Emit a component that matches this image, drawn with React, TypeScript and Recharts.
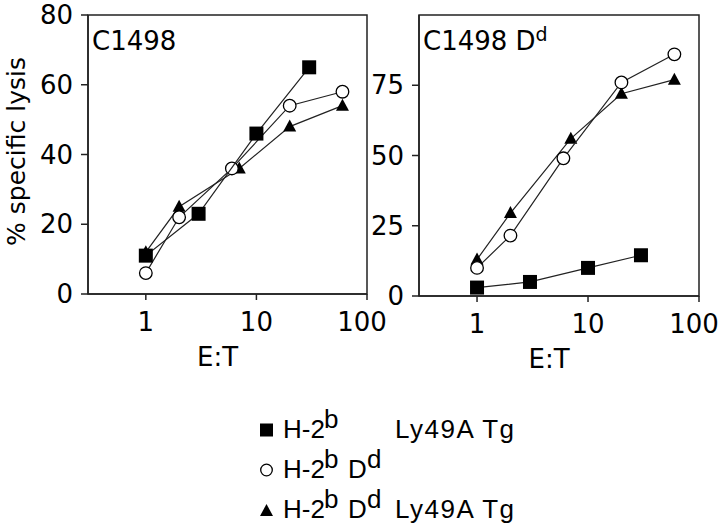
import {
  ComposedChart,
  Scatter,
  XAxis,
  YAxis,
  ReferenceArea,
} from "recharts";

// E:T ratios for each group
const etSquare = [1, 3, 10, 30];
const etCircle = [1, 2, 6, 20, 60];
const etTriangle = [1, 2, 7, 20, 60];

// % specific lysis, C1498 targets
const c1498Square = [11, 23, 46, 65];
const c1498Circle = [6, 22, 36, 54, 58];
const c1498Triangle = [12, 25, 36, 48, 54];

// % specific lysis, C1498 Dd targets
const c1498DdSquare = [3, 5, 10, 14.5];
const c1498DdCircle = [10, 21.5, 49, 76, 86];
const c1498DdTriangle = [13, 29.5, 56, 72, 77];

const xTicks = [1, 10, 100];
const leftYTicks = [0, 20, 40, 60, 80];
const rightYTicks = [0, 25, 50, 75];

const legendRows = [
  { shape: "square", base: "H-2", sup: "b", d: false, tg: true },
  { shape: "circle", base: "H-2", sup: "b", d: true, tg: false },
  { shape: "triangle", base: "H-2", sup: "b", d: true, tg: true },
];

const AXIS_FONT = "'DejaVu Sans', sans-serif";
const LEGEND_FONT = "'Liberation Sans', Arial, sans-serif";
const INK = "#222";

const toPoints = (xs: number[], ys: number[]) => xs.map((x, i) => ({ x, y: ys[i] }));

const SquareDot = (p: any) => (
  <rect x={p.cx - 7} y={p.cy - 7} width={14} height={14} fill="#000" />
);
const CircleDot = (p: any) => (
  <circle cx={p.cx} cy={p.cy} r={6.3} fill="#fff" stroke="#000" strokeWidth={1.3} />
);
const TriangleDot = (p: any) => (
  <polygon
    points={`${p.cx},${p.cy - 7} ${p.cx - 6.5},${p.cy + 5} ${p.cx + 6.5},${p.cy + 5}`}
    fill="#000"
  />
);

const tickStyle = { fontSize: 26, fill: "#000", fontFamily: AXIS_FONT };

// x tick: the "100" label sits a little left of its tick in the original
const XTick = (props: any) => {
  const { x, y, payload } = props;
  const shift = payload.value === 100 ? -5 : 0;
  return (
    <text
      x={x + shift}
      y={y + 19}
      textAnchor="middle"
      fontSize={26}
      fontFamily={AXIS_FONT}
      fill="#000"
    >
      {payload.value}
    </text>
  );
};

function Panel({
  square,
  circle,
  triangle,
  yMax,
  yTicks,
  width,
  yAxisWidth,
  margin,
  title,
  showYLabel,
}: any) {
  const lineStyle = { stroke: INK, strokeWidth: 1.2 };
  return (
    <ComposedChart width={width} height={400} margin={margin}>
      <XAxis
        dataKey="x"
        type="number"
        scale="log"
        domain={[0.3, 100]}
        ticks={xTicks}
        allowDataOverflow
        height={72}
        tickSize={6}
        tickMargin={12}
        tick={XTick}
        axisLine={{ stroke: INK, strokeWidth: 1.5 }}
        tickLine={{ stroke: INK, strokeWidth: 1.5 }}
        label={{
          content: (props: any) => {
            const vb = props.viewBox;
            return (
              <text
                x={vb.x + vb.width / 2 - 10}
                y={vb.y + vb.height}
                textAnchor="middle"
                fontSize={26}
                fontFamily={AXIS_FONT}
                fill="#000"
              >
                E:T
              </text>
            );
          },
        }}
      />
      <YAxis
        dataKey="y"
        type="number"
        domain={[0, yMax]}
        ticks={yTicks}
        allowDataOverflow
        width={yAxisWidth}
        tickSize={7}
        tickMargin={8}
        tick={tickStyle}
        axisLine={{ stroke: INK, strokeWidth: 1.5 }}
        tickLine={{ stroke: INK, strokeWidth: 1.5 }}
        label={
          showYLabel
            ? {
                content: (props: any) => {
                  const vb = props.viewBox;
                  const cx = 25;
                  const cy = vb.y + vb.height / 2 - 3;
                  return (
                    <text
                      x={cx}
                      y={cy}
                      transform={`rotate(-90, ${cx}, ${cy})`}
                      textAnchor="middle"
                      fontSize={25}
                      fontFamily={AXIS_FONT}
                      fill="#000"
                    >
                      % specific lysis
                    </text>
                  );
                },
              }
            : undefined
        }
      />
      <ReferenceArea
        x1={0.3}
        x2={100}
        y1={0}
        y2={yMax}
        fill="none"
        stroke={INK}
        strokeWidth={1.5}
        fillOpacity={0}
        ifOverflow="visible"
        label={{
          content: (props: any) => {
            const vb = props.viewBox;
            return (
              <text x={vb.x + 4} y={vb.y + 35} fontSize={26} fontFamily={AXIS_FONT} fill="#000">
                {title}
                {title === "C1498 D" ? (
                  <tspan dy={-9} fontSize={19}>
                    d
                  </tspan>
                ) : null}
              </text>
            );
          },
        }}
      />
      <Scatter
        data={toPoints(etTriangle, triangle)}
        line={lineStyle}
        lineType="joint"
        shape={TriangleDot}
        isAnimationActive={false}
      />
      <Scatter
        data={toPoints(etCircle, circle)}
        line={lineStyle}
        lineType="joint"
        shape={CircleDot}
        isAnimationActive={false}
      />
      <Scatter
        data={toPoints(etSquare, square)}
        line={lineStyle}
        lineType="joint"
        shape={SquareDot}
        isAnimationActive={false}
      />
    </ComposedChart>
  );
}

function LegendMarker({ shape, cx, cy }: { shape: string; cx: number; cy: number }) {
  if (shape === "square") return <rect x={cx - 6.5} y={cy - 6.5} width={13} height={13} fill="#000" />;
  if (shape === "circle")
    return <circle cx={cx} cy={cy} r={5.8} fill="#fff" stroke="#000" strokeWidth={1.3} />;
  return <polygon points={`${cx},${cy - 6} ${cx - 6.5},${cy + 6} ${cx + 6.5},${cy + 6}`} fill="#000" />;
}

function LegendBlock() {
  return (
    <svg width={720} height={126} style={{ position: "absolute", left: 0, top: 400 }}>
      {legendRows.map((row, i) => {
        const base = 38 + i * 40;
        return (
          <g key={row.shape} fontFamily={LEGEND_FONT} fontSize={26} fill="#000">
            <LegendMarker shape={row.shape} cx={266.5} cy={base - 8} />
            <text x={283} y={base}>{row.base}</text>
            <text x={324} y={base - 10}>{row.sup}</text>
            {row.d ? (
              <>
                <text x={348} y={base}>D</text>
                <text x={367} y={base - 10}>d</text>
              </>
            ) : null}
            {row.tg ? (
              <text x={395} y={base} textLength={119} lengthAdjust="spacing">
                Ly49A Tg
              </text>
            ) : null}
          </g>
        );
      })}
    </svg>
  );
}

export default function App() {
  return (
    <div
      style={{
        position: "absolute",
        left: 0,
        top: 0,
        width: 720,
        height: 526,
        background: "#fff",
        overflow: "hidden",
      }}
    >
      <div style={{ position: "absolute", left: 0, top: 0 }}>
        <Panel
          square={c1498Square}
          circle={c1498Circle}
          triangle={c1498Triangle}
          yMax={80}
          yTicks={leftYTicks}
          width={400}
          yAxisWidth={88}
          margin={{ top: 15, right: 33, left: 0, bottom: 34 }}
          title="C1498"
          showYLabel
        />
      </div>
      <div style={{ position: "absolute", left: 360, top: 0 }}>
        <Panel
          square={c1498DdSquare}
          circle={c1498DdCircle}
          triangle={c1498DdTriangle}
          yMax={100}
          yTicks={rightYTicks}
          width={360}
          yAxisWidth={59}
          margin={{ top: 15, right: 21, left: 0, bottom: 32 }}
          title="C1498 D"
          showYLabel={false}
        />
      </div>
      <LegendBlock />
    </div>
  );
}
